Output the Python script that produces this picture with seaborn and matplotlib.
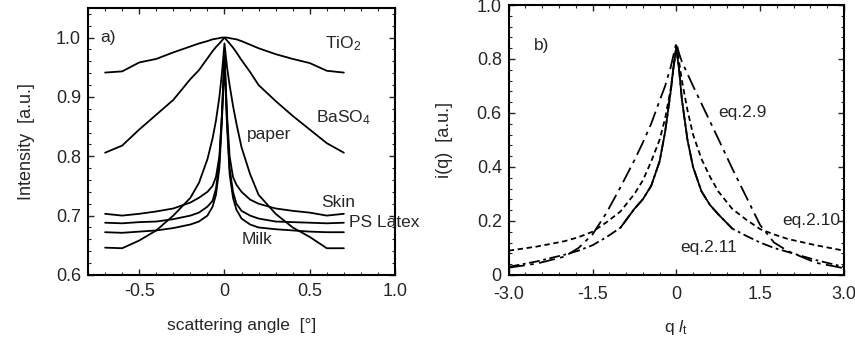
import numpy as np
import pandas as pd
import seaborn as sns
import matplotlib.pyplot as plt
from matplotlib.ticker import AutoMinorLocator

# panel a) measured scattering profiles
angle = [-0.7, -0.6, -0.5, -0.4, -0.3, -0.2, -0.15, -0.1, -0.07, -0.05, -0.03, -0.015, 0,
         0.015, 0.03, 0.05, 0.07, 0.1, 0.15, 0.2, 0.3, 0.4, 0.5, 0.6, 0.7]
tio2 = [0.941, 0.943, 0.958, 0.964, 0.975, 0.985, 0.990, 0.994, 0.997, 0.998, 0.999, 1.0, 1.0,
        1.0, 0.999, 0.998, 0.997, 0.994, 0.988, 0.982, 0.972, 0.964, 0.957, 0.944, 0.941]
baso4 = [0.806, 0.818, 0.845, 0.870, 0.895, 0.930, 0.945, 0.965, 0.977, 0.984, 0.990, 0.995, 1.0,
         0.995, 0.990, 0.983, 0.975, 0.962, 0.942, 0.920, 0.893, 0.868, 0.845, 0.822, 0.806]
paper = [0.646, 0.645, 0.658, 0.675, 0.700, 0.730, 0.755, 0.795, 0.830, 0.860, 0.900, 0.940, 0.99,
         0.950, 0.920, 0.885, 0.855, 0.815, 0.770, 0.735, 0.703, 0.680, 0.664, 0.645, 0.645]
skin = [0.703, 0.700, 0.703, 0.707, 0.712, 0.722, 0.730, 0.740, 0.750, 0.765, 0.800, 0.870, 0.97,
        0.870, 0.800, 0.765, 0.752, 0.740, 0.727, 0.720, 0.712, 0.708, 0.705, 0.700, 0.703]
ps_latex = [0.688, 0.687, 0.689, 0.690, 0.694, 0.700, 0.705, 0.715, 0.725, 0.745, 0.790, 0.870, 0.97,
            0.860, 0.780, 0.740, 0.720, 0.708, 0.700, 0.695, 0.690, 0.689, 0.688, 0.687, 0.688]
milk = [0.672, 0.671, 0.673, 0.675, 0.679, 0.685, 0.690, 0.700, 0.715, 0.735, 0.780, 0.860, 0.96,
        0.850, 0.770, 0.730, 0.710, 0.695, 0.685, 0.680, 0.677, 0.675, 0.673, 0.672, 0.672]

# panel b) model curves
q = [-3.0, -2.5, -2.0, -1.75, -1.5, -1.25, -1.0, -0.75, -0.6, -0.45, -0.3, -0.2, -0.1, -0.05, 0,
     0.05, 0.1, 0.2, 0.3, 0.45, 0.6, 0.75, 1.0, 1.25, 1.5, 1.75, 2.0, 2.5, 3.0]
eq29 = [0.027, 0.042, 0.068, 0.100, 0.150, 0.230, 0.325, 0.425, 0.490, 0.560, 0.645, 0.700, 0.770, 0.815, 0.86,
        0.820, 0.790, 0.745, 0.700, 0.635, 0.570, 0.505, 0.395, 0.290, 0.185, 0.120, 0.088, 0.045, 0.025]
eq210 = [0.090, 0.105, 0.125, 0.140, 0.160, 0.195, 0.235, 0.300, 0.350, 0.420, 0.500, 0.580, 0.690, 0.770, 0.85,
         0.790, 0.720, 0.610, 0.520, 0.430, 0.365, 0.310, 0.245, 0.205, 0.170, 0.150, 0.133, 0.110, 0.090]
eq211 = [0.030, 0.050, 0.075, 0.090, 0.110, 0.140, 0.175, 0.245, 0.280, 0.330, 0.420, 0.530, 0.680, 0.770, 0.84,
         0.760, 0.650, 0.500, 0.400, 0.310, 0.260, 0.225, 0.172, 0.145, 0.120, 0.100, 0.085, 0.055, 0.030]

sns.set_style("ticks")
plt.rcParams['font.family'] = ['Liberation Sans', 'DejaVu Sans']
plt.rcParams['mathtext.fontset'] = 'custom'
plt.rcParams['mathtext.rm'] = 'Liberation Sans'
plt.rcParams['mathtext.it'] = 'Liberation Sans:italic'

fig = plt.figure(figsize=(8.55, 3.58), dpi=100)
ax1 = fig.add_axes([0.103, 0.232, 0.359, 0.746])
ax2 = fig.add_axes([0.595, 0.232, 0.392, 0.754])

fs = 12.5
tfs = 13
for name, vals in [('TiO2', tio2), ('BaSO4', baso4), ('paper', paper),
                   ('Skin', skin), ('PS Latex', ps_latex), ('Milk', milk)]:
    sns.lineplot(x=angle, y=vals, ax=ax1, color='black', lw=1.3)

ax1.set_xlim(-0.8, 1.0)
ax1.set_ylim(0.6, 1.05)
ax1.set_xticks([-0.5, 0, 0.5, 1.0], ['-0.5', '0', '0.5', '1.0'])
ax1.set_yticks([0.6, 0.7, 0.8, 0.9, 1.0], ['0.6', '0.7', '0.8', '0.9', '1.0'])
ax1.set_xlabel('scattering angle  [°]', fontsize=fs, labelpad=13)
ax1.set_ylabel('Intensity  [a.u.]', fontsize=13, labelpad=15)

ax1.text(-0.73, 1.0, 'a)', fontsize=fs, va='center')
ax1.text(0.59, 0.99, 'TiO$_2$', fontsize=fs, va='center')
ax1.text(0.535, 0.865, 'BaSO$_4$', fontsize=fs, va='center')
ax1.text(0.13, 0.836, 'paper', fontsize=fs, va='center')
ax1.text(0.565, 0.722, 'Skin', fontsize=fs, va='center')
ax1.text(0.73, 0.688, 'PS Latex', fontsize=fs, va='center')
ax1.text(0.10, 0.660, 'Milk', fontsize=fs, va='center')

styles = [(eq29, (0, (9, 3, 2, 3))), (eq210, (0, (3, 2))), (eq211, (0, (6, 2, 1.5, 2)))]
for vals, ls in styles:
    sns.lineplot(x=q, y=vals, ax=ax2, color='black', lw=1.3, linestyle=ls)

# eq.2.11 is drawn solid in the central region
q_arr = np.array(q)
inner = np.abs(q_arr) <= 1.0
sns.lineplot(x=q_arr[inner], y=np.array(eq211)[inner], ax=ax2, color='black', lw=1.3)

ax2.set_xlim(-3.0, 3.0)
ax2.set_ylim(0, 1.0)
ax2.set_xticks([-3.0, -1.5, 0, 1.5, 3.0], ['-3.0', '-1.5', '0', '1.5', '3.0'])
ax2.set_yticks([0, 0.2, 0.4, 0.6, 0.8, 1.0], ['0', '0.2', '0.4', '0.6', '0.8', '1.0'])
ax2.set_xlabel('q $l_\\mathrm{t}$', fontsize=fs, labelpad=11)
ax2.set_ylabel('i(q)  [a.u.]', fontsize=13, labelpad=17)

ax2.text(-2.55, 0.85, 'b)', fontsize=fs, va='center')
ax2.text(0.75, 0.60, 'eq.2.9', fontsize=fs, va='center')
ax2.text(1.89, 0.20, 'eq.2.10', fontsize=fs, va='center')
ax2.text(0.07, 0.10, 'eq.2.11', fontsize=fs, va='center')

for ax in (ax1, ax2):
    ax.xaxis.set_minor_locator(AutoMinorLocator(5))
    ax.yaxis.set_minor_locator(AutoMinorLocator(5))
    ax.tick_params(which='both', direction='in', top=True, right=True, labelsize=tfs)
    ax.tick_params(which='major', length=4, width=1)
    ax.tick_params(which='minor', length=2, width=0.8)
    ax.tick_params(axis='x', pad=6)
    ax.tick_params(axis='y', pad=5)
    for s in ax.spines.values():
        s.set_linewidth(1.5)
        s.set_color('black')
ax2.tick_params(axis='x', pad=8)

fig.savefig('out.png', dpi=100)
